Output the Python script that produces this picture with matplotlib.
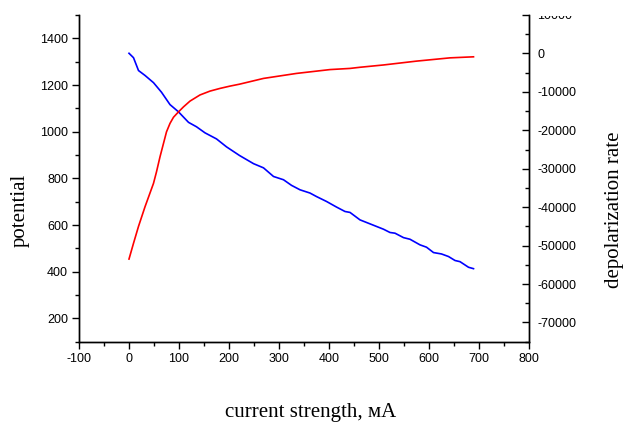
import numpy as np
import matplotlib.pyplot as plt
from matplotlib.ticker import MultipleLocator
from matplotlib.transforms import Bbox, TransformedBbox

# current strength (mA) vs potential, left axis
cur_pot = [0, 9, 19, 32, 49, 65, 82, 99, 119, 135, 152, 175, 195, 221, 249, 269,
           289, 309, 325, 342, 362, 375, 395, 415, 432, 442, 462, 482, 509, 522,
           532, 549, 562, 582, 595, 609, 625, 639, 652, 662, 679, 689]
potential = [1336, 1317, 1262, 1241, 1210, 1169, 1116, 1085, 1040, 1021, 995, 969,
             935, 898, 863, 845, 808, 794, 770, 751, 737, 722, 701, 677, 658, 654,
             622, 605, 582, 568, 565, 546, 539, 515, 505, 482, 476, 465, 448, 443,
             419, 413]

# current strength (mA) vs depolarization rate, right axis
cur_dep = [0, 9, 19, 32, 49, 55, 62, 69, 75, 82, 89, 99, 109, 122, 142, 162, 182,
           202, 221, 269, 335, 402, 442, 462, 509, 575, 642, 689]
depol = [-53500, -49400, -45000, -39900, -33800, -30800, -26900, -23400, -20400,
         -18200, -16600, -15200, -13900, -12400, -10800, -9800, -9100, -8500,
         -8000, -6500, -5200, -4200, -3900, -3600, -3000, -2000, -1150, -880]

plt.rcParams['font.family'] = ['Liberation Sans', 'DejaVu Sans']
plt.rcParams['axes.unicode_minus'] = False
serif = ['Liberation Serif', 'DejaVu Serif']

fig = plt.figure(figsize=(6.26, 4.24), dpi=100)
ax = fig.add_axes([79 / 626, 1 - 341.7 / 424, 450 / 626, 326.7 / 424])
ax2 = ax.twinx()

ax.plot(cur_pot, potential, color='#0000ff', lw=1.2)
ax2.plot(cur_dep, depol, color='#ff0000', lw=1.2)

ax.set_xlim(-100, 800)
ax.set_ylim(100, 1500)
ax2.set_ylim(-75000, 10000)

ax.xaxis.set_major_locator(MultipleLocator(100))
ax.xaxis.set_minor_locator(MultipleLocator(50))
ax.yaxis.set_major_locator(MultipleLocator(200))
ax.yaxis.set_minor_locator(MultipleLocator(100))
ax2.yaxis.set_major_locator(MultipleLocator(10000))
ax2.yaxis.set_minor_locator(MultipleLocator(5000))
ax.set_yticks(np.arange(200, 1401, 200))

for a in (ax, ax2):
    a.spines['top'].set_visible(False)
    for s in a.spines.values():
        s.set_linewidth(1.0)
ax.tick_params(axis='x', which='major', direction='out', length=5, width=1, pad=3, labelsize=9)
ax.tick_params(axis='x', which='minor', direction='out', length=3, width=1)
ax.tick_params(axis='y', which='major', direction='out', length=5, width=1, pad=3, labelsize=9)
ax.tick_params(axis='y', which='minor', direction='out', length=3, width=1)
ax2.tick_params(axis='y', which='major', direction='in', length=5, width=1, pad=6, labelsize=9)
ax2.tick_params(axis='y', which='minor', direction='in', length=3, width=1)

fig.text(311 / 626, 1 - 413 / 424, 'current strength, мА', family=serif,
         fontsize=15, ha='center', va='center')
fig.text(20 / 626, 1 - 210 / 424, 'potential', family=serif, fontsize=15,
         rotation=90, ha='center', va='center')
fig.text(615 / 626, 1 - 210 / 424, 'depolarization rate', family=serif,
         fontsize=15, rotation=90, ha='center', va='center')

# the top label of the right axis is cut off in the original
fig.canvas.draw()
clip = TransformedBbox(Bbox([[0, 0], [6.26, (424 - 15.5) / 100]]), fig.dpi_scale_trans)
for t in ax2.get_yticklabels():
    if abs(t.get_position()[1] - 10000) < 1:
        t.set_clip_box(clip)
        t.set_clip_on(True)

fig.savefig('out.png', dpi=100)
